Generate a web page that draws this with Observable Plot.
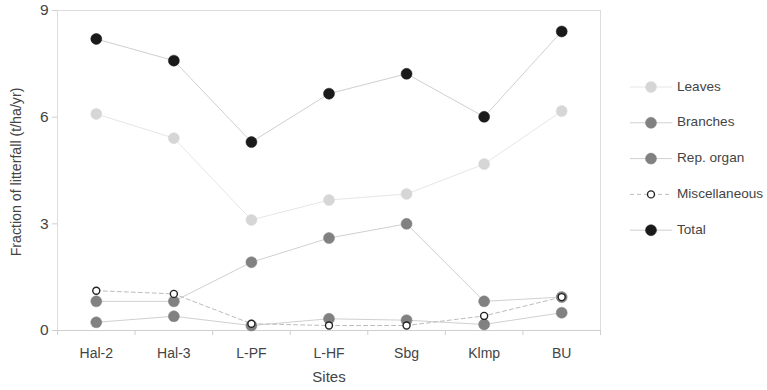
<!DOCTYPE html>
<html><head><meta charset="utf-8">
<script src="https://cdn.jsdelivr.net/npm/d3@7"></script>
<script src="https://cdn.jsdelivr.net/npm/@observablehq/plot@0.6"></script>
<style>body{margin:0;background:#fff;font-family:"Liberation Sans",Arial,sans-serif}</style>
</head><body><div id="chart"></div>
<script>
const sites = ["Hal-2","Hal-3","L-PF","L-HF","Sbg","Klmp","BU"];
const leaves = [6.09, 5.41, 3.11, 3.67, 3.84, 4.68, 6.17];
const branches = [0.82, 0.82, 1.92, 2.60, 3.00, 0.82, 0.94];
const repOrgan = [0.23, 0.40, 0.14, 0.33, 0.29, 0.17, 0.50];
const misc = [1.12, 1.03, 0.19, 0.14, 0.14, 0.41, 0.94];
const total = [8.20, 7.59, 5.30, 6.66, 7.22, 6.01, 8.41];
const yTicks = [0, 3, 6, 9];

const seriesDefs = [
  {name:"Leaves", values:leaves, fill:"#d6d6d6", stroke:"#d6d6d6", line:"#e6e6e6", r:5.5, dash:"none"},
  {name:"Branches", values:branches, fill:"#818181", stroke:"#818181", line:"#d0d0d0", r:5.5, dash:"none"},
  {name:"Rep. organ", values:repOrgan, fill:"#818181", stroke:"#818181", line:"#d0d0d0", r:5.5, dash:"none"},
  {name:"Miscellaneous", values:misc, fill:"#fff", stroke:"#222", line:"#bdbdbd", r:3.5, dash:"4,3"},
  {name:"Total", values:total, fill:"#1a1a1a", stroke:"#1a1a1a", line:"#cfcfcf", r:5.5, dash:"none"}
];
const rows = s => s.values.map((v,i)=>({i, v, site: sites[i]}));

const marks = [
  Plot.frame({stroke:"#dcdcdc"}),
  Plot.axisY({ticks:yTicks, tickSize:5, stroke:"#cfcfcf", color:"#444", fontSize:15.5, tickPadding:4, label:null}),
  Plot.axisX({ticks:d3.range(sites.length), tickFormat:i=>sites[i], tickSize:0, tickPadding:18, fontSize:14, color:"#444", label:null}),
  Plot.axisX({ticks:d3.range(sites.length+1).map(i=>i-0.5), tickFormat:()=>"", tickSize:5, stroke:"#cfcfcf", label:null}),
  Plot.ruleY([0], {stroke:"#cfcfcf"})
];
for (const s of seriesDefs) {
  marks.push(Plot.line(rows(s), {x:"i", y:"v", stroke:s.line, strokeWidth:1, strokeDasharray:s.dash}));
}
for (const s of seriesDefs) {
  marks.push(Plot.dot(rows(s), {x:"i", y:"v", r:s.r, fill:s.fill, stroke:s.stroke, strokeWidth: s.name==="Miscellaneous"?1.4:0.5}));
}

const plot = Plot.plot({
  width: 767, height: 390,
  marginLeft: 57, marginRight: 167, marginTop: 10, marginBottom: 60,
  style: {fontFamily:'"Liberation Sans",Arial,sans-serif', background:"#fff"},
  x: {type:"linear", domain:[-0.5, sites.length-0.5]},
  y: {domain:[0, 9]},
  marks
});
document.getElementById("chart").appendChild(plot);

const svg = d3.select(plot);
svg.append("text").attr("transform","translate(17,172) rotate(-90)")
  .attr("text-anchor","middle").attr("dominant-baseline","middle")
  .attr("font-size",14.2).attr("fill","#444").text("Fraction of litterfall (t/ha/yr)");
svg.append("text").attr("x",329).attr("y",382).attr("text-anchor","middle")
  .attr("font-size",15).attr("fill","#444").text("Sites");

const lg = svg.append("g").attr("text-anchor","start");
seriesDefs.forEach((s,k)=>{
  const y = 87 + k*35.8;
  lg.append("line").attr("x1",630).attr("x2",672).attr("y1",y).attr("y2",y)
    .attr("stroke",s.line).attr("stroke-width",1).attr("stroke-dasharray",s.dash);
  lg.append("circle").attr("cx",651).attr("cy",y).attr("r",s.r)
    .attr("fill",s.fill).attr("stroke",s.stroke).attr("stroke-width",s.name==="Miscellaneous"?1.4:0.5);
  lg.append("text").attr("x",677).attr("y",y).attr("text-anchor","start").attr("dominant-baseline","middle")
    .attr("font-size",13.6).attr("fill","#444").text(s.name);
});
</script></body></html>
